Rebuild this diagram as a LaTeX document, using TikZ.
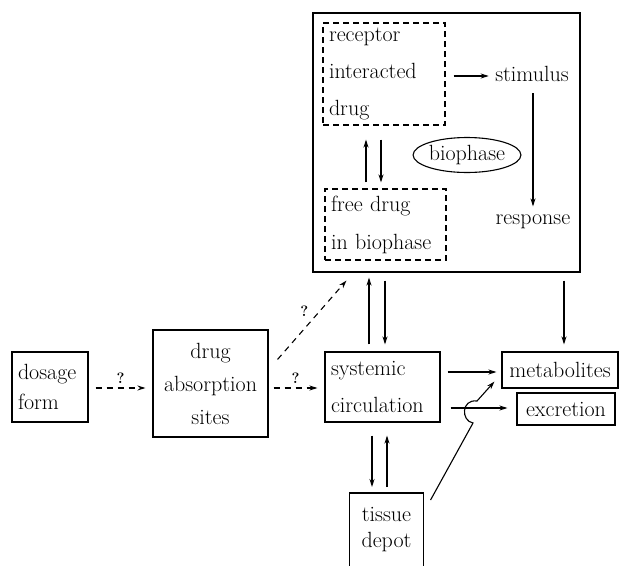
\documentclass[tikz,border=0pt]{standalone}
\usepackage{fontspec}
\usetikzlibrary{arrows.meta,shapes.geometric,calc}
\begin{document}
\begin{tikzpicture}[x=1pt,y=-1pt,line width=1.1pt,
  fnt/.style={font=\fontsize{22}{#1}\selectfont},
  bx/.style={draw,rectangle,inner xsep=6pt,inner ysep=0pt},
  dbx/.style={bx,dash pattern=on 6pt off 4pt},
  txt/.style={inner sep=2pt,fnt=28},
  arr/.style={-{Stealth[length=8pt,width=5pt]}},
  darr/.style={arr,dash pattern=on 6pt off 5pt},
  qm/.style={font=\fontsize{15}{18}\selectfont\bfseries,inner sep=2pt}]
\useasboundingbox (0,0) rectangle (621,565);
% big biophase box
\node[draw,minimum width=267pt,minimum height=259pt,inner sep=0pt] (big) at (446.5,142.5) {};
\node[dbx,fnt=37,text width=110pt,minimum height=102pt,align=left] (receptor) at (384,74) {receptor\\interacted\\drug};
\node[dbx,fnt=38,text width=109pt,minimum height=71pt,align=left] (free) at (385.5,224.5) {free drug\\in biophase};
\node[draw,ellipse,minimum width=107pt,minimum height=35pt,inner sep=0pt,fnt=28] (bio) at (467,155) {biophase};
\node[txt] (stimulus) at (532,74) {stimulus};
\node[txt] (response) at (533,222) {response};
% lower boxes
\node[bx,fnt=30,text width=64pt,minimum height=70pt,align=left] (dosage) at (50,387) {dosage\\form};
\node[bx,fnt=33,text width=103pt,minimum height=107pt,align=center] (absorb) at (210.5,383.5) {drug\\absorption\\sites};
\node[bx,fnt=37,text width=103pt,minimum height=70pt,align=left] (systemic) at (382.5,387) {systemic\\circulation};
\node[bx,fnt=28,text width=104pt,minimum height=36pt,align=center] (metab) at (560,370) {metabolites};
\node[bx,fnt=28,text width=86pt,minimum height=32pt,align=center] (excr) at (566,409) {excretion};
\node[fnt=26,minimum width=73pt,minimum height=72pt,inner sep=0pt,anchor=north,align=center] (tissue) at (386.5,493) {tissue\\depot};
\draw (tissue.south west) |- (tissue.north east) -- (tissue.south east);
% biophase internal arrows
\draw[arr] ($(receptor.east)+(8,2)$) -- ($(stimulus.west)+(-4,2)$);
\draw[arr] ($(stimulus.south)+(1,9)$) -- ($(response.north)+(0,-6)$);
\draw[arr] ($(free.north)+(-19.5,-6)$) -- ($(receptor.south)+(-18,14)$);
\draw[arr] ($(receptor.south)+(-3,14)$) -- ($(free.north)+(-4.5,-6)$);
% big box <-> systemic
\draw[arr] ($(systemic.north)+(-13.5,-7)$) -- ($(big.south)+(-77.5,5)$);
\draw[arr] ($(big.south)+(-61.5,8)$) -- ($(systemic.north)+(2.5,-7)$);
\draw[arr] ($(big.south -| metab.north)+(4,8)$) -- ($(metab.north)+(4,-7)$);
% systemic <-> tissue
\draw[arr] ($(systemic.south)+(-10.5,13)$) -- ($(tissue.north)+(-14.5,-6)$);
\draw[arr] ($(tissue.north)+(0.5,-6)$) -- ($(systemic.south)+(4.5,13)$);
% dashed absorption arrows
\draw[darr] ($(dosage.east)+(7,1)$) -- node[qm,above=2pt] {?} ($(absorb.west)+(-7,4.5)$);
\draw[darr] ($(absorb.east)+(5,4.5)$) -- node[qm,above=2pt] {?} ($(systemic.west)+(-7,1)$);
\draw[darr] ($(absorb.north east)+(9,30)$) -- node[qm,above left=1pt] {?} ($(big.south west)+(34,8)$);
% elimination
\draw[arr] ($(systemic.east)+(7,-15)$) -- ($(metab.west)+(-5,2)$);
\draw[arr] ($(systemic.east)+(10,21)$) -- ($(excr.west)+(-9,-1)$);
\coordinate (hopA) at (473,423);
\coordinate (hopB) at (477,401);
\draw[arr] ($(tissue.north east)+(7,7)$) -- (hopA) .. controls (461,421) and (461,399) .. (hopB) -- ($(metab.south west)+(-7,-7)$);
\end{tikzpicture}
\end{document}
